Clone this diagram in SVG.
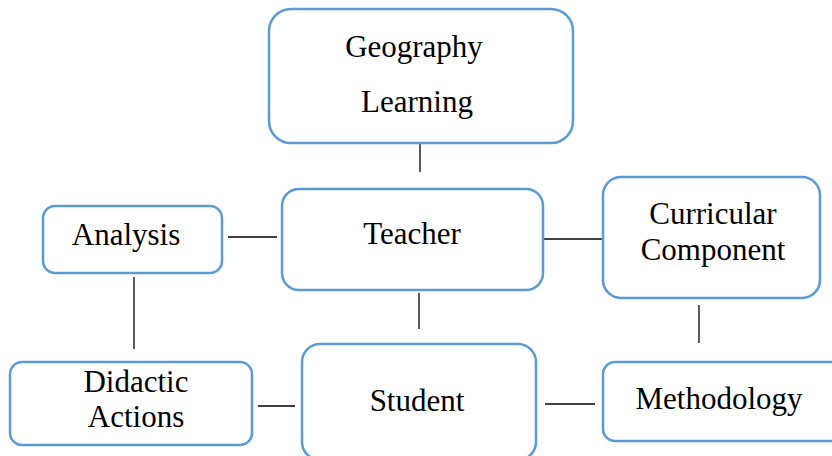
<svg xmlns="http://www.w3.org/2000/svg" width="832" height="456" viewBox="0 0 832 456">
<style>
.box{fill:#fff;stroke:#5B9BD5;stroke-width:2.5}
.t{font-family:"Liberation Serif","Times New Roman",serif;font-size:31px;fill:#000;text-anchor:middle}
.c{stroke:#000;stroke-width:1.3;fill:none}
</style>
<rect width="832" height="456" fill="#fff"/>
<g id="connectors">
<line class="c" x1="420" y1="143" x2="420" y2="172"/>
<line class="c" x1="228" y1="237" x2="277" y2="237"/>
<line class="c" x1="543" y1="239" x2="602" y2="239"/>
<line class="c" x1="134" y1="277" x2="134" y2="349"/>
<line class="c" x1="419" y1="293" x2="419" y2="329"/>
<line class="c" x1="699" y1="305" x2="699" y2="343"/>
<line class="c" x1="258" y1="406" x2="295" y2="406"/>
<line class="c" x1="545" y1="404" x2="595" y2="404"/>
</g>
<g id="geography">
<rect class="box" x="269" y="9" width="304" height="134" rx="22"/>
<text class="t" x="414" y="57">Geography</text>
<text class="t" x="417" y="112">Learning</text>
</g>
<g id="teacher">
<rect class="box" x="282" y="189" width="261" height="101" rx="17"/>
<text class="t" x="412" y="244">Teacher</text>
</g>
<g id="analysis">
<rect class="box" x="43" y="206" width="179" height="67" rx="12"/>
<text class="t" x="126" y="245">Analysis</text>
</g>
<g id="curricular">
<rect class="box" x="603" y="177" width="217" height="121" rx="18"/>
<text class="t" x="713" y="224">Curricular</text>
<text class="t" x="713" y="260">Component</text>
</g>
<g id="didactic">
<rect class="box" x="10" y="362" width="242" height="83" rx="12"/>
<text class="t" x="136" y="392">Didactic</text>
<text class="t" x="136" y="427">Actions</text>
</g>
<g id="student">
<rect class="box" x="302" y="344" width="234" height="116" rx="18"/>
<text class="t" x="417" y="411">Student</text>
</g>
<g id="methodology">
<rect class="box" x="603" y="362" width="245" height="79" rx="12"/>
<text class="t" x="719" y="409">Methodology</text>
</g>
</svg>
